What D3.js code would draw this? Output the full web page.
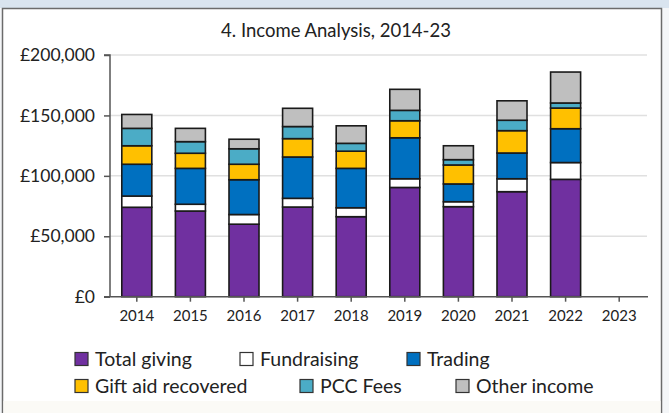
<!DOCTYPE html>
<html><head><meta charset="utf-8">
<script src="https://cdn.jsdelivr.net/npm/d3@7/dist/d3.min.js"></script>
<style>
html,body{margin:0;padding:0;background:#fff;}
svg{display:block;font-family:Lato, "DejaVu Sans", sans-serif;}
</style></head>
<body><svg id="c" width="669" height="413"></svg>
<script>
const years = ["2014","2015","2016","2017","2018","2019","2020","2021","2022","2023"];
const seriesNames = ["Total giving","Fundraising","Trading","Gift aid recovered","PCC Fees","Other income"];
const seriesColors = ["#7030a0","#ffffff","#0070c0","#ffc000","#4bacc6","#bfbfbf"];
const totalGiving   = [74000, 70900, 60000, 74200, 66200, 90400, 74500, 86900, 97100, 0];
const fundraising   = [9300, 5600, 8000, 7200, 7400, 7200, 4100, 10700, 13900, 0];
const trading       = [26300, 29700, 28800, 34200, 32600, 33900, 14700, 21300, 28000, 0];
const giftAid       = [15300, 12500, 12800, 15200, 14200, 14100, 15700, 18500, 17100, 0];
const pccFees       = [14400, 9600, 12800, 10000, 6500, 8600, 4400, 8600, 4200, 0];
const otherIncome   = [11500, 11000, 7900, 15100, 14500, 17400, 11500, 16100, 25600, 0];
const yTicks = [0, 50000, 100000, 150000, 200000];
const titleText = "4. Income Analysis, 2014-23";

const svg = d3.select("#c");
const W = 669, H = 413;

// frame
svg.append("rect").attr("x",0).attr("y",0).attr("width",W).attr("height",H).attr("fill","#f4f6f8");
svg.append("rect").attr("x",0).attr("y",0).attr("width",W).attr("height",8).attr("fill","#d9e4ef");
svg.append("rect").attr("x",2.5).attr("y",8.5).attr("width",659).attr("height",410)
  .attr("fill","#ffffff").attr("stroke","#6b6b6b").attr("stroke-width",1.5);
svg.append("rect").attr("x",3.5).attr("y",401).attr("width",657).attr("height",12).attr("fill","#fbfaf6");

const series = [totalGiving, fundraising, trading, giftAid, pccFees, otherIncome];
const rows = years.map((y,i)=>{ const o={year:y}; seriesNames.forEach((n,k)=>o[n]=series[k][i]); return o; });
const stacked = d3.stack().keys(seriesNames)(rows);

const x = d3.scaleBand().domain(years).range([110, 646]).paddingInner(0.44).paddingOuter(0.22);
const y = d3.scaleLinear().domain([0, 200000]).range([296.7, 55]);

// gridlines
svg.append("g").selectAll("line").data(yTicks.filter(d=>d>0)).join("line")
  .attr("x1",110).attr("x2",647).attr("y1",d=>y(d)).attr("y2",d=>y(d))
  .attr("stroke","#e0e0e0").attr("stroke-width",1.5);

// bars
const g = svg.append("g");
stacked.forEach((s,k)=>{
  g.append("g").selectAll("rect").data(s.filter(d=>d[1]-d[0]>0)).join("rect")
    .attr("x",d=>x(d.data.year)).attr("width",x.bandwidth())
    .attr("y",d=>y(d[1])).attr("height",d=>y(d[0])-y(d[1]))
    .attr("fill",seriesColors[k]).attr("stroke","#1a1a1a").attr("stroke-width",1.6);
});

// y axis
const yAxis = d3.axisLeft(y).tickValues(yTicks).tickSize(6).tickPadding(9)
  .tickFormat(d=>"£"+d3.format(",")(d));
const ya = svg.append("g").attr("transform","translate(110,0)").call(yAxis);
ya.select(".domain").attr("stroke","#555").attr("stroke-width",1.5).attr("d","M-6,"+y(200000)+"H0V"+y(0));
ya.selectAll(".tick line").attr("stroke","#555").attr("stroke-width",1.5);
ya.selectAll("text").attr("fill","#222").style("font-size","17.5px").style("font-family","Lato, sans-serif");

// x axis
const xAxis = d3.axisBottom(x).tickSize(5).tickPadding(9);
const xa = svg.append("g").attr("transform","translate(0,"+y(0)+")").call(xAxis);
xa.select(".domain").attr("stroke","#555").attr("stroke-width",1.5).attr("d","M104,0H648");
xa.selectAll(".tick line").attr("stroke","#555").attr("stroke-width",1.5);
xa.selectAll("text").attr("fill","#222").style("font-size","15px").style("font-family","Lato, sans-serif");

// title
svg.append("text").attr("x",336).attr("y",37).attr("text-anchor","middle")
  .attr("fill","#222").style("font-size","18.5px").text(titleText);

// legend
const legendPos = [[75,359],[240,359],[407,359],[75,386],[300,386],[456,386]];
const lg = svg.append("g");
seriesNames.forEach((n,k)=>{
  const [lx,ly] = legendPos[k];
  lg.append("rect").attr("x",lx).attr("y",ly-6.5).attr("width",13).attr("height",13)
    .attr("fill",seriesColors[k]).attr("stroke","#333").attr("stroke-width",1.2);
  lg.append("text").attr("x",lx+20).attr("y",ly+6.5).attr("fill","#222")
    .style("font-size","19.5px").text(n);
});
</script></body></html>
